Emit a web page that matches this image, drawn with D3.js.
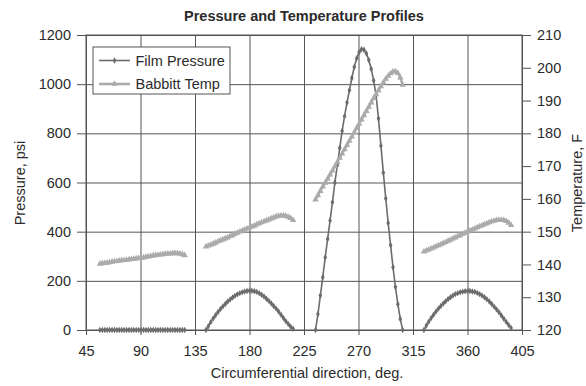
<!DOCTYPE html>
<html>
<head>
<meta charset="utf-8">
<script src="https://cdn.jsdelivr.net/npm/d3@7"></script>
<style>
  body { margin: 0; background: #fff; }
  svg { display: block; font-family: "Liberation Sans", Arial, sans-serif; }
</style>
</head>
<body>
<div id="chart"></div>
<script>
// tick labels
const degTicks = [45, 90, 135, 180, 225, 270, 315, 360, 405];
const psiTicks = [0, 200, 400, 600, 800, 1000, 1200];
const tempTicks = [120, 130, 140, 150, 160, 170, 180, 190, 200, 210];

// pad 1
const pad1Deg = [56.5, 58.5, 60.5, 62.5, 64.5, 66.5, 68.5, 70.5, 72.5, 74.5, 76.5, 78.5, 80.5, 82.5, 84.5, 86.5, 88.5, 90.5,
  92.5, 94.5, 96.5, 98.5, 100.5, 102.5, 104.5, 106.5, 108.5, 110.5, 112.5, 114.5, 116.5, 118.5, 120.5, 122.5, 124.5, 126.5];
const pad1Psi = [0, 0, 0, 0, 0, 0, 0, 0, 0, 0, 0, 0, 0, 0, 0, 0, 0, 0,
  0, 0, 0, 0, 0, 0, 0, 0, 0, 0, 0, 0, 0, 0, 0, 0, 0, 0];
const pad1Temp = [140.2, 140.3, 140.4, 140.5, 140.6, 140.8, 140.9, 141.0, 141.1, 141.2, 141.3, 141.4, 141.5, 141.6, 141.7, 141.8, 141.9, 142.0,
  142.1, 142.3, 142.4, 142.5, 142.7, 142.8, 142.9, 143.0, 143.1, 143.2, 143.3, 143.3, 143.4, 143.4, 143.4, 143.3, 143.1, 142.8];

// pad 2
const pad2Deg = [144, 146, 148, 150, 152, 154, 156, 158, 160, 162, 164, 166, 168, 170, 172, 174, 176, 178, 180,
  182, 184, 186, 188, 190, 192, 194, 196, 198, 200, 202, 204, 206, 208, 210, 212, 214, 216];
const pad2Psi = [0, 15, 32, 47, 60, 73, 85, 96, 106, 116, 124, 132, 139, 145, 150, 154, 157, 159, 160,
  160, 158, 155, 150, 143, 136, 127, 118, 108, 98, 87, 75, 62, 49, 36, 24, 13, 5];
const pad2Temp = [145.4, 145.7, 146.0, 146.3, 146.6, 147.0, 147.3, 147.6, 147.9, 148.2, 148.6, 148.9, 149.3, 149.6, 150.0, 150.3, 150.6, 150.9, 151.2,
  151.5, 151.8, 152.2, 152.5, 152.8, 153.1, 153.4, 153.7, 154.0, 154.3, 154.6, 154.8, 154.9, 154.9, 154.8, 154.5, 154.1, 153.5];

// pad 3
const pad3Deg = [234.5, 236.5, 238.5, 240.5, 242.5, 244.5, 246.5, 248.5, 250.5, 252.5, 254.5, 256.5, 258.5, 260.5, 262.5, 264.5, 266.5, 268.5, 270.5,
  272.5, 274.5, 276.5, 278.5, 280.5, 282.5, 284.5, 286.5, 288.5, 290.5, 292.5, 294.5, 296.5, 298.5, 300.5, 302.5, 304.5, 306.5];
const pad3Psi = [0, 65, 140, 215, 295, 370, 445, 520, 600, 670, 740, 810, 870, 925, 975, 1025, 1070, 1105, 1130,
  1142, 1140, 1125, 1098, 1062, 1015, 955, 860, 750, 640, 535, 435, 345, 255, 175, 105, 45, 0];
const pad3Temp = [159.8, 161.1, 162.4, 163.7, 164.9, 166.1, 167.4, 168.6, 169.9, 171.2, 172.5, 173.8, 175.1, 176.4, 177.7, 179.0, 180.3, 181.6, 182.9,
  184.2, 185.5, 186.8, 188.1, 189.4, 190.7, 191.9, 193.1, 194.3, 195.5, 196.6, 197.5, 198.3, 198.8, 198.9, 198.4, 197.0, 194.8];

// pad 4
const pad4Deg = [324, 326, 328, 330, 332, 334, 336, 338, 340, 342, 344, 346, 348, 350, 352, 354, 356, 358, 360,
  362, 364, 366, 368, 370, 372, 374, 376, 378, 380, 382, 384, 386, 388, 390, 392, 394, 396];
const pad4Psi = [0, 18, 34, 49, 62, 75, 87, 98, 108, 117, 126, 133, 140, 146, 150, 154, 156, 158, 159,
  159, 157, 155, 151, 146, 140, 133, 125, 116, 106, 95, 84, 72, 59, 46, 33, 20, 8];
const pad4Temp = [143.9, 144.2, 144.5, 144.8, 145.1, 145.5, 145.8, 146.1, 146.5, 146.8, 147.2, 147.5, 147.9, 148.2, 148.6, 148.9, 149.3, 149.6, 150.0,
  150.3, 150.6, 150.9, 151.3, 151.6, 151.9, 152.2, 152.5, 152.8, 153.1, 153.3, 153.5, 153.6, 153.6, 153.5, 153.2, 152.7, 152.0];

const pads = [
  { deg: pad1Deg, psi: pad1Psi, temp: pad1Temp },
  { deg: pad2Deg, psi: pad2Psi, temp: pad2Temp },
  { deg: pad3Deg, psi: pad3Psi, temp: pad3Temp },
  { deg: pad4Deg, psi: pad4Psi, temp: pad4Temp }
];

const W = 586, H = 386;
const margin = { top: 35, right: 64, bottom: 56, left: 86 };
const width = W - margin.left - margin.right;
const height = H - margin.top - margin.bottom;

const gridColor = '#555';
const textColor = '#2b2b2b';
const pressColor = '#6c6c6c';
const tempColor = '#ababab';

const svg = d3.select('#chart').append('svg')
  .attr('width', W)
  .attr('height', H);

const g = svg.append('g').attr('transform', `translate(${margin.left},${margin.top})`);

const xScale = d3.scaleLinear().domain([45, 405]).range([0, width]);
const yScale = d3.scaleLinear().domain([0, 1200]).range([height, 0]);
const yTemp = d3.scaleLinear().domain([120, 210]).range([height, 0]);

// axes + grid
const xAxis = g.append('g')
  .attr('transform', `translate(0,${height})`)
  .call(d3.axisBottom(xScale).tickValues(degTicks).tickFormat(d3.format('d')).tickSize(5).tickPadding(11));
xAxis.selectAll('.tick line').attr('y1', -height);

const yAxis = g.append('g')
  .call(d3.axisLeft(yScale).tickValues(psiTicks).tickFormat(d3.format('d')).tickSize(9).tickPadding(6));
yAxis.selectAll('.tick line').attr('x1', width);

const yAxisR = g.append('g')
  .attr('transform', `translate(${width},0)`)
  .call(d3.axisRight(yTemp).tickValues(tempTicks).tickFormat(d3.format('d')).tickSize(9).tickPadding(6));

g.selectAll('.domain').remove();
g.selectAll('.tick line').attr('stroke', gridColor).attr('stroke-width', 1);
g.selectAll('.tick text')
  .attr('fill', textColor)
  .style('font-size', '14.5px');

g.append('rect')
  .attr('width', width)
  .attr('height', height)
  .attr('fill', 'none')
  .attr('stroke', gridColor)
  .attr('stroke-width', 1);

// lines
const pressLine = d3.line()
  .x(d => xScale(d.deg))
  .y(d => yScale(d.psi));

const tempLine = d3.line()
  .x(d => xScale(d.deg))
  .y(d => yTemp(d.temp));

const diamond = d3.symbol().type(d3.symbolDiamond).size(12);
const triangle = d3.symbol().type(d3.symbolTriangle).size(18);

pads.forEach(pad => {
  const pts = pad.deg.map((deg, i) => ({ deg: deg, psi: pad.psi[i], temp: pad.temp[i] }));

  g.append('path')
    .datum(pts)
    .attr('fill', 'none')
    .attr('stroke', pressColor)
    .attr('stroke-width', 1.6)
    .attr('d', pressLine);

  g.selectAll(null)
    .data(pts)
    .enter()
    .append('path')
    .attr('d', diamond)
    .attr('fill', pressColor)
    .attr('transform', d => `translate(${xScale(d.deg)},${yScale(d.psi)})`);
});

pads.forEach(pad => {
  const pts = pad.deg.map((deg, i) => ({ deg: deg, psi: pad.psi[i], temp: pad.temp[i] }));

  g.append('path')
    .datum(pts)
    .attr('fill', 'none')
    .attr('stroke', tempColor)
    .attr('stroke-width', 2.4)
    .attr('d', tempLine);

  g.selectAll(null)
    .data(pts)
    .enter()
    .append('path')
    .attr('d', triangle)
    .attr('fill', tempColor)
    .attr('transform', d => `translate(${xScale(d.deg)},${yTemp(d.temp)})`);
});

// legend
const legend = svg.append('g');
legend.append('rect')
  .attr('x', 93).attr('y', 47)
  .attr('width', 137).attr('height', 47)
  .attr('fill', '#fff')
  .attr('stroke', gridColor);

const items = [
  { label: 'Film Pressure', color: pressColor, w: 1.6, sym: diamond, y: 60.5 },
  { label: 'Babbitt Temp', color: tempColor, w: 2.6, sym: triangle, y: 84 }
];
items.forEach(it => {
  legend.append('line')
    .attr('x1', 99).attr('x2', 130)
    .attr('y1', it.y).attr('y2', it.y)
    .attr('stroke', it.color)
    .attr('stroke-width', it.w);
  legend.append('path')
    .attr('d', it.sym)
    .attr('fill', it.color)
    .attr('transform', `translate(114.5,${it.y})`);
  legend.append('text')
    .attr('x', 135.5)
    .attr('y', it.y + 5)
    .attr('fill', textColor)
    .style('font-size', '14.5px')
    .text(it.label);
});

// titles
svg.append('text')
  .attr('x', 304).attr('y', 21)
  .attr('text-anchor', 'middle')
  .attr('fill', textColor)
  .style('font-size', '14.5px')
  .style('font-weight', 'bold')
  .text('Pressure and Temperature Profiles');

svg.append('text')
  .attr('x', 307).attr('y', 378)
  .attr('text-anchor', 'middle')
  .attr('fill', textColor)
  .style('font-size', '14.5px')
  .text('Circumferential direction, deg.');

svg.append('text')
  .attr('transform', 'translate(24.5,183) rotate(-90)')
  .attr('text-anchor', 'middle')
  .attr('fill', textColor)
  .style('font-size', '14.5px')
  .text('Pressure, psi');

svg.append('text')
  .attr('transform', 'translate(581.5,183) rotate(-90)')
  .attr('text-anchor', 'middle')
  .attr('fill', textColor)
  .style('font-size', '14.5px')
  .text('Temperature, F');
</script>
</body>
</html>
